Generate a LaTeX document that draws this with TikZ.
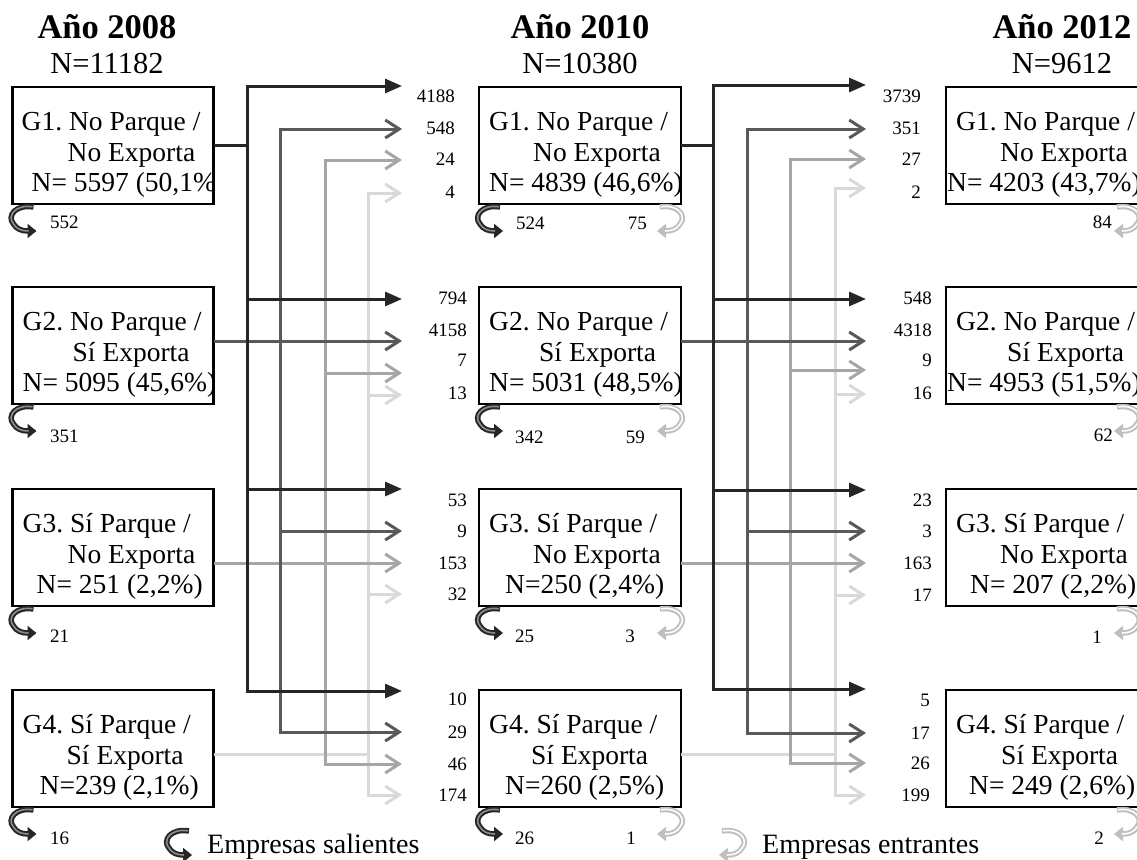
\documentclass[tikz,border=0pt]{standalone}
\usepackage{fontspec}
\setmainfont{Liberation Serif}
\frenchspacing
\usetikzlibrary{arrows.meta,calc}
\definecolor{cdk}{HTML}{262626}
\definecolor{cdg}{HTML}{595959}
\definecolor{cmg}{HTML}{A6A6A6}
\definecolor{clg}{HTML}{D9D9D9}
\definecolor{cin}{HTML}{BFBFBF}
\definecolor{cinner}{HTML}{8C8C8C}
\tikzset{
  tipfill/.tip={Triangle[length=17pt,width=14pt]},
  tipopen/.tip={Straight Barb[length=14pt,width=18pt]},
  lnk/.style={line width=3pt, line join=miter},
  dkl/.style={lnk, draw=cdk},
  dgl/.style={lnk, draw=cdg},
  mgl/.style={lnk, draw=cmg},
  lgl/.style={lnk, draw=clg},
  gbox/.style={draw=black, line width=2.8pt, minimum height=117pt, inner sep=0pt, outer sep=0pt},
  boxtxt/.style={anchor=base west, inner sep=0pt, font=\fontsize{27.5}{31}\selectfont},
  ttl/.style={anchor=base, inner sep=0pt, font=\fontsize{34.5}{40}\selectfont\bfseries},
  ttn/.style={anchor=base, inner sep=0pt, font=\fontsize{30.5}{36}\selectfont},
  num/.style={anchor=east, inner sep=0pt, font=\fontsize{19}{22}\selectfont},
  leg/.style={anchor=base west, inner sep=0pt, font=\fontsize{28}{32}\selectfont},
  salida/.pic={
    \draw[line width=5.5pt, draw=cdk, -{Triangle[length=9pt,width=14pt]}]
      (21,3) .. controls (3,0) and (-6,12) .. (1,20) .. controls (4,25) and (9,27) .. (24,27);
    \draw[line width=1.6pt, draw=cinner, shorten >=8pt, shorten <=1pt]
      (21,3) .. controls (3,0) and (-6,12) .. (1,20) .. controls (4,25) and (9,27) .. (24,27);
  },
  entrada/.pic={
    \begin{scope}[xscale=-1]
    \draw[line width=5.5pt, draw=cin, -{Triangle[length=9pt,width=14pt]}]
      (21,3) .. controls (3,0) and (-6,12) .. (1,20) .. controls (4,25) and (9,27) .. (24,27);
    \draw[line width=1.6pt, draw=white, shorten >=8pt, shorten <=1pt]
      (21,3) .. controls (3,0) and (-6,12) .. (1,20) .. controls (4,25) and (9,27) .. (24,27);
    \end{scope}
  }
}
\newcommand\gboxtext[7]{%
  \begin{scope}
  \clip ($(#1.south west)+(1.4,-1.4)$) rectangle ($(#1.north east)+(-1.4,1.4)$);
  \node[boxtxt] (#1-l1) at ($(#1.north west)+(#2,43)$) {#3};
  \node[boxtxt] (#1-l2) at ($(#1.north west)+(#4,74)$) {#5};
  \node[boxtxt] (#1-l3) at ($(#1.north west)+(#6,104)$) {#7};
  \end{scope}}
\begin{document}
\begin{tikzpicture}[x=1pt,y=-1pt]
\useasboundingbox (0,0) rectangle (1137,859);
\clip (0,0) rectangle (1137,859);

% titles
\node[ttl] (y1) at (107,39) {Año 2008};
\node[ttn] (n1) at (107,74) {N=11182};
\node[ttl] (y2) at (580,39) {Año 2010};
\node[ttn] (n2) at (580,74) {N=10380};
\node[ttl] (y3) at (1062,39) {Año 2012};
\node[ttn] (n3) at (1062,74) {N=9612};

% boxes
\foreach \c/\x/\w in {1/113/201,2/580/202,3/1046/200}
  \foreach \g/\y in {1/145.5,2/345.5,3/547.5,4/748.5}
    \node[gbox, minimum width=\w pt] (b\c\g) at (\x,\y) {};

\gboxtext{b11}{9}{G1. No Parque /}{55}{No Exporta}{19}{N= 5597 (50,1\%)}
\gboxtext{b12}{10}{G2. No Parque /}{60}{Sí Exporta}{10}{N= 5095 (45,6\%)}
\gboxtext{b13}{10}{G3. Sí Parque /}{55}{No Exporta}{24}{N= 251 (2,2\%)}
\gboxtext{b14}{10}{G4. Sí Parque /}{54}{Sí Exporta}{27}{N=239 (2,1\%)}
\gboxtext{b21}{10}{G1. No Parque /}{54}{No Exporta}{10}{N= 4839 (46,6\%)}
\gboxtext{b22}{10}{G2. No Parque /}{60}{Sí Exporta}{10}{N= 5031 (48,5\%)}
\gboxtext{b23}{10}{G3. Sí Parque /}{54}{No Exporta}{26}{N=250 (2,4\%)}
\gboxtext{b24}{10}{G4. Sí Parque /}{52}{Sí Exporta}{26}{N=260 (2,5\%)}
\gboxtext{b31}{10}{G1. No Parque /}{54}{No Exporta}{1}{N= 4203 (43,7\%)}
\gboxtext{b32}{10}{G2. No Parque /}{61}{Sí Exporta}{1}{N= 4953 (51,5\%)}
\gboxtext{b33}{10}{G3. Sí Parque /}{54}{No Exporta}{24}{N= 207 (2,2\%)}
\gboxtext{b34}{10}{G4. Sí Parque /}{55}{Sí Exporta}{23}{N= 249 (2,6\%)}

% coordinates: buses and arrow tips
\coordinate (Ax1) at (247,0); \coordinate (Ax2) at (280,0);
\coordinate (Ax3) at (325,0); \coordinate (Ax4) at (368,0);
\coordinate (Bx1) at (713,0); \coordinate (Bx2) at (747,0);
\coordinate (Bx3) at (790,0); \coordinate (Bx4) at (835,0);
\coordinate (Aj1) at (247,145); \coordinate (Aj4) at (368,754);
\coordinate (Bj1) at (713,145); \coordinate (Bj4) at (835,754);
\foreach \g/\ya/\yb/\yc/\yd in {1/86/129/160/193,2/299/341/373/395,3/489/531/563/594,4/691/732/764/795}{
  \coordinate (A\g1) at (402,\ya); \coordinate (A\g2) at (402,\yb);
  \coordinate (A\g3) at (402,\yc); \coordinate (A\g4) at (402,\yd);}
\foreach \g/\ya/\yb/\yc/\yd in {1/85/129/159/188,2/299/341/370/394,3/490/531/563/595,4/689/733/763/795}{
  \coordinate (B\g1) at (866,\ya); \coordinate (B\g2) at (866,\yb);
  \coordinate (B\g3) at (866,\yc); \coordinate (B\g4) at (866,\yd);}

% transition 2008 -> 2010
\draw[lgl,{tipopen}-{tipopen}] (A14) -- (A14 -| Ax4) -- (A44 -| Ax4) -- (A44);
\draw[lgl,-{tipopen}] (A24 -| Ax4) -- (A24);
\draw[lgl,-{tipopen}] (A34 -| Ax4) -- (A34);
\draw[lgl] (b14.east |- Aj4) -- (Aj4);
\draw[mgl,{tipopen}-{tipopen}] (A13) -- (A13 -| Ax3) -- (A43 -| Ax3) -- (A43);
\draw[mgl,-{tipopen}] (A23 -| Ax3) -- (A23);
\draw[mgl,-{tipopen}] (b13.east |- A33) -- (A33);
\draw[dgl,{tipopen}-{tipopen}] (A12) -- (A12 -| Ax2) -- (A42 -| Ax2) -- (A42);
\draw[dgl,-{tipopen}] (b12.east |- A22) -- (A22);
\draw[dgl,-{tipopen}] (A32 -| Ax2) -- (A32);
\draw[dkl,{tipfill}-{tipfill}] (A11) -- (A11 -| Ax1) -- (A41 -| Ax1) -- (A41);
\draw[dkl,-{tipfill}] (A21 -| Ax1) -- (A21);
\draw[dkl,-{tipfill}] (A31 -| Ax1) -- (A31);
\draw[dkl] (b11.east |- Aj1) -- (Aj1);

% transition 2010 -> 2012
\draw[lgl,{tipopen}-{tipopen}] (B14) -- (B14 -| Bx4) -- (B44 -| Bx4) -- (B44);
\draw[lgl,-{tipopen}] (B24 -| Bx4) -- (B24);
\draw[lgl,-{tipopen}] (B34 -| Bx4) -- (B34);
\draw[lgl] (b24.east |- Bj4) -- (Bj4);
\draw[mgl,{tipopen}-{tipopen}] (B13) -- (B13 -| Bx3) -- (B43 -| Bx3) -- (B43);
\draw[mgl,-{tipopen}] (B23 -| Bx3) -- (B23);
\draw[mgl,-{tipopen}] (b23.east |- B33) -- (B33);
\draw[dgl,{tipopen}-{tipopen}] (B12) -- (B12 -| Bx2) -- (B42 -| Bx2) -- (B42);
\draw[dgl,-{tipopen}] (b22.east |- B22) -- (B22);
\draw[dgl,-{tipopen}] (B32 -| Bx2) -- (B32);
\draw[dkl,{tipfill}-{tipfill}] (B11) -- (B11 -| Bx1) -- (B41 -| Bx1) -- (B41);
\draw[dkl,-{tipfill}] (B21 -| Bx1) -- (B21);
\draw[dkl,-{tipfill}] (B31 -| Bx1) -- (B31);
\draw[dkl] (b21.east |- Bj1) -- (Bj1);

% flow labels
\foreach \v/\x/\y [count=\i] in {4188/455/96,548/455/128,24/455/159,4/455/192,
  794/467/298,4158/467/330,7/467/360,13/467/393,
  53/467/500,9/467/531,153/467/563,32/467/594,
  10/467/699,29/467/732,46/467/764,174/467/795}
  \node[num] (la\i) at (\x,\y) {\v};
\foreach \v/\x/\y [count=\i] in {3739/921/96,351/921/128,27/921/159,2/921/192,
  548/932/298,4318/932/330,9/932/360,16/932/393,
  23/932/500,3/932/531,163/932/563,17/932/595,
  5/930/700,17/930/733,26/930/763,199/930/795}
  \node[num] (lb\i) at (\x,\y) {\v};

% exits / entries
\foreach \c in {1,2}
  \foreach \g in {1,2,3,4}
    \pic at (b\c\g.south west) {salida};
\foreach \g in {1,2,3,4}
  \pic at (b2\g.south east) {entrada};
\foreach \g in {1,2,3,4}
  \pic at ($(b3\g.south east)+(-8,0)$) {entrada};
\foreach \v/\x/\y [count=\i] in {552/50/222,351/50/436,21/50/636,16/50/838,
  524/516/223,342/515/437,25/515/636,26/515/838}
  \node[num,anchor=west] (ls\i) at (\x,\y) {\v};
\foreach \v/\x/\y [count=\i] in {75/647/223,59/645/437,3/635/636,1/636/838,
  84/1112/222,62/1113/435,1/1102/637,2/1104/838}
  \node[num] (le\i) at (\x,\y) {\v};

% legend
\pic at (168,828) {salida};
\node[leg] (lg1) at (207,853) {Empresas salientes};
\pic at (743,828) {entrada};
\node[leg] (lg2) at (762,853) {Empresas entrantes};
\end{tikzpicture}
\end{document}
